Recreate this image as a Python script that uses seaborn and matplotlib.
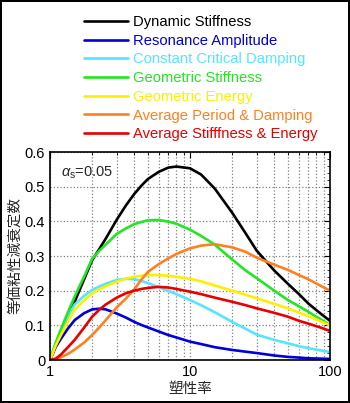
import seaborn as sns
import matplotlib.pyplot as plt
import pandas as pd
from matplotlib.ticker import MultipleLocator, NullFormatter, LogLocator

# ductility ratio (x) and equivalent damping ratio for each method
ductility = [1, 1.1, 1.2, 1.35, 1.5, 1.75, 2, 2.25, 2.5, 3, 3.5, 4, 4.5, 5, 6, 7, 8, 10,
             12, 15, 20, 25, 30, 40, 50, 60, 70, 85, 100]

dynamic_stiffness = [0, 0.042, 0.08, 0.13, 0.168, 0.232, 0.288, 0.32, 0.35, 0.405, 0.447,
                     0.479, 0.503, 0.522, 0.543, 0.555, 0.558, 0.553, 0.535, 0.495, 0.425,
                     0.365, 0.315, 0.258, 0.22, 0.19, 0.163, 0.135, 0.113]
resonance_amplitude = [0, 0.038, 0.062, 0.092, 0.115, 0.135, 0.146, 0.148, 0.146, 0.134, 0.122,
                       0.11, 0.101, 0.094, 0.082, 0.072, 0.065, 0.053, 0.046, 0.037, 0.029,
                       0.024, 0.02, 0.013, 0.009, 0.007, 0.005, 0.004, 0.003]
constant_critical = [0, 0.05, 0.085, 0.128, 0.16, 0.185, 0.202, 0.212, 0.22, 0.231, 0.234,
                     0.233, 0.228, 0.222, 0.21, 0.199, 0.19, 0.173, 0.158, 0.138, 0.11,
                     0.09, 0.073, 0.058, 0.048, 0.04, 0.034, 0.028, 0.023]
geometric_stiffness = [0, 0.05, 0.09, 0.14, 0.183, 0.24, 0.292, 0.315, 0.333, 0.364, 0.38,
                       0.392, 0.398, 0.403, 0.404, 0.399, 0.393, 0.376, 0.358, 0.333, 0.29,
                       0.258, 0.236, 0.2, 0.173, 0.155, 0.139, 0.118, 0.101]
geometric_energy = [0, 0.042, 0.073, 0.112, 0.145, 0.172, 0.192, 0.204, 0.213, 0.226, 0.235,
                    0.24, 0.243, 0.245, 0.245, 0.243, 0.24, 0.234, 0.227, 0.215, 0.2,
                    0.188, 0.178, 0.162, 0.149, 0.137, 0.127, 0.112, 0.1]
period_damping = [0, 0.001, 0.008, 0.018, 0.03, 0.05, 0.072, 0.094, 0.115, 0.152, 0.178,
                  0.204, 0.232, 0.254, 0.277, 0.293, 0.306, 0.322, 0.33, 0.334, 0.325,
                  0.312, 0.295, 0.275, 0.26, 0.245, 0.233, 0.215, 0.2]
stiffness_energy = [0, 0.004, 0.016, 0.038, 0.058, 0.093, 0.125, 0.145, 0.16, 0.18, 0.193,
                    0.2, 0.205, 0.208, 0.211, 0.209, 0.205, 0.197, 0.19, 0.18, 0.168,
                    0.158, 0.149, 0.136, 0.125, 0.113, 0.105, 0.094, 0.084]

series = [
    ("Dynamic Stiffness", dynamic_stiffness, "#000000"),
    ("Resonance Amplitude", resonance_amplitude, "#0000d8"),
    ("Constant Critical Damping", constant_critical, "#55e5ff"),
    ("Geometric Stiffness", geometric_stiffness, "#22e622"),
    ("Geometric Energy", geometric_energy, "#ffee00"),
    ("Average Period & Damping", period_damping, "#ff8020"),
    ("Average Stifffness & Energy", stiffness_energy, "#e80000"),
]

sns.set_theme(style="white")
plt.rcParams["font.family"] = ["Liberation Sans", "Noto Sans CJK JP", "DejaVu Sans"]
plt.rcParams["mathtext.fontset"] = "custom"
plt.rcParams["mathtext.rm"] = "Liberation Sans"
plt.rcParams["mathtext.it"] = "Liberation Sans:italic"

fig = plt.figure(figsize=(3.5, 4.03), dpi=100)
fig.patch.set_edgecolor("black")
fig.patch.set_linewidth(1.5)
ax = fig.add_axes([50 / 350, 43 / 403, 280 / 350, 208 / 403])

for name, vals, color in series:
    df = pd.DataFrame({"x": ductility, "y": vals})
    sns.lineplot(data=df, x="x", y="y", color=color, linewidth=1.9,
                 label=name, ax=ax, sort=False)

ax.set_xscale("log")
ax.set_xlim(1, 100)
ax.set_ylim(0, 0.6)
ax.set_xticks([1, 10, 100], labels=["1", "10", "100"])
ax.xaxis.set_minor_locator(LogLocator(base=10, subs=range(2, 10)))
ax.xaxis.set_minor_formatter(NullFormatter())
ax.set_yticks([0, 0.1, 0.2, 0.3, 0.4, 0.5, 0.6],
              labels=["0", "0.1", "0.2", "0.3", "0.4", "0.5", "0.6"])
ax.yaxis.set_minor_locator(MultipleLocator(0.02))
ax.tick_params(which="both", direction="in", top=True, right=True,
               labelsize=10.5, colors="black")
ax.tick_params(which="major", length=4, width=0.8)
ax.tick_params(which="minor", length=2, width=0.6)
for sp in ax.spines.values():
    sp.set_color("black")
    sp.set_linewidth(1.2)

ax.grid(True, which="major", axis="both", linestyle=":", color="#808080", linewidth=0.9)
ax.grid(True, which="minor", axis="x", linestyle=":", color="#808080", linewidth=0.9)

ax.set_xlabel("塑性率", fontsize=10.5, labelpad=2)
ax.set_ylabel("等価粘性減衰定数", fontsize=10.5, labelpad=2)
ax.text(0.04, 0.88, r"$\alpha_\mathrm{s}$=0.05", transform=ax.transAxes, fontsize=10.5)

handles, labels = ax.get_legend_handles_labels()
ax.get_legend().remove()
fig.legend(handles, labels, loc="upper left", bbox_to_anchor=(84 / 350, 1 - 15 / 403),
           frameon=False, fontsize=10.6, labelcolor="linecolor", handlelength=3.0,
           handletextpad=0.35, labelspacing=0.32, borderpad=0, borderaxespad=0)

fig.savefig("out.png", dpi=100)
